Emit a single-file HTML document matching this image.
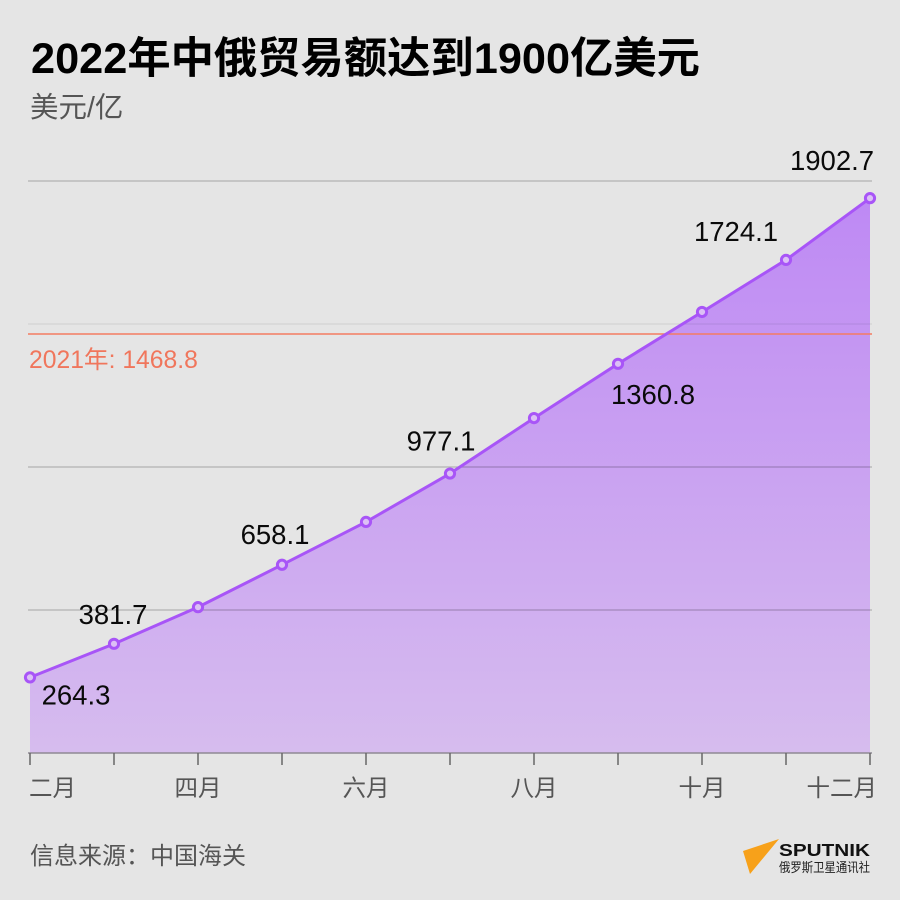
<!DOCTYPE html>
<html lang="zh">
<head>
<meta charset="utf-8">
<title>2022年中俄贸易额达到1900亿美元</title>
<style>
html,body{margin:0;padding:0;background:#e5e5e5;}
svg{display:block;}
text{font-family:"Liberation Sans","Noto Sans CJK SC",sans-serif;}
</style>
</head>
<body>
<svg id="chart" xmlns="http://www.w3.org/2000/svg" width="900" height="900" viewBox="0 0 900 900">
  <defs>
    <linearGradient id="areaFill" x1="0" y1="0" x2="0" y2="1">
      <stop offset="0" stop-color="#bb82f5"/>
      <stop offset="1" stop-color="#d5b9ef"/>
    </linearGradient>
  </defs>
  <rect width="900" height="900" fill="#e5e5e5"/>
  <text x="31" y="73" font-size="43" font-weight="700" fill="#000" textLength="669" lengthAdjust="spacingAndGlyphs">2022年中俄贸易额达到1900亿美元</text>
  <text x="30" y="117" font-size="28.5" fill="#555">美元/亿</text>
  <g id="plot"></g>
  <text x="30" y="864" font-size="24" fill="#555">信息来源：中国海关</text>
  <g>
    <polygon points="743,851 779,839 750,874" fill="#f7a11a"/>
    <text x="779" y="856" font-size="17.5" font-weight="700" fill="#111" textLength="91" lengthAdjust="spacingAndGlyphs">SPUTNIK</text>
    <text x="779" y="872" font-size="13" fill="#222" textLength="91" lengthAdjust="spacingAndGlyphs">俄罗斯卫星通讯社</text>
  </g>
</svg>
<script>
const categories = ['二月','三月','四月','五月','六月','七月','八月','九月','十月','十一月','十二月'];
const seriesValues = [264.3,381.7,510,658.1,808,977.1,1171,1360.8,1542,1724.1,1940];
const printedLabels = ['264.3','381.7','','658.1','','977.1','','1360.8','','1724.1','1902.7'];
const axisLabels = ['二月','','四月','','六月','','八月','','十月','','十二月'];
const gridTicks = [0,500,1000,1500,2000];
const referenceValue = 1465;
const referenceLabel = '2021年: 1468.8';

const SVG_NS = 'http://www.w3.org/2000/svg';
const plot = document.getElementById('plot');
const xLeft = 30, xStep = 84, yBase = 753, yPerUnit = 143 / 500;
const xScale = i => xLeft + i * xStep;
const yScale = v => yBase - v * yPerUnit;

function make(tag, attrs, parent) {
  const el = document.createElementNS(SVG_NS, tag);
  for (const k in attrs) el.setAttribute(k, attrs[k]);
  (parent || plot).appendChild(el);
  return el;
}

const pts = seriesValues.map((v, i) => xScale(i) + ',' + yScale(v));
const area = make('polygon', {points: xScale(0) + ',' + yBase + ' ' + pts.join(' ') + ' ' + xScale(seriesValues.length - 1) + ',' + yBase, fill: 'url(#areaFill)', 'fill-opacity': 0.93});



gridTicks.forEach(t => {
  if (t === 0) return;
  const g = make('line', {x1: 28, x2: 872, y1: yScale(t), y2: yScale(t), stroke: '#000', 'stroke-opacity': t === 1500 ? 0.09 : 0.22, 'stroke-width': t === 1500 ? 1 : 1.3});
  
  
});

const refLine = make('line', {x1: 28, x2: 872, y1: yScale(referenceValue), y2: yScale(referenceValue), stroke: '#f47c62', 'stroke-width': 1.5});



const refText = make('text', {x: 29, y: yScale(referenceValue) + 34, 'font-size': 24.7, fill: '#f0765c'});


refText.textContent = referenceLabel;

const axisLine = make('line', {x1: 28, x2: 872, y1: yBase, y2: yBase, stroke: '#8f8a93', 'stroke-width': 1.6});



categories.forEach((c, i) => {
  const tick = make('line', {x1: xScale(i), x2: xScale(i), y1: yBase, y2: yBase + 12, stroke: '#666', 'stroke-width': 1.5});
  
  
  if (!axisLabels[i]) return;
  const first = i === 0, last = i === categories.length - 1;
  const lab = make('text', {
    x: first ? 29 : last ? 877 : xScale(i),
    y: 796,
    'font-size': 23.5,
    fill: '#555',
    'text-anchor': first ? 'start' : last ? 'end' : 'middle'
  });
  
  
  lab.textContent = axisLabels[i];
});

const line = make('polyline', {points: pts.join(' '), fill: 'none', stroke: '#a855f7', 'stroke-width': 3, 'stroke-linejoin': 'round'});



const labelPlacement = {
  '二月': [46, 27], '三月': [-1, -20], '五月': [-7, -21], '七月': [-9, -23],
  '九月': [35, 40], '十一月': [-50, -19], '十二月': [-38, -28]
};

seriesValues.forEach((v, i) => {
  const p = make('circle', {cx: xScale(i), cy: yScale(v), r: 4.6, fill: '#dcc0f5', stroke: '#a855f7', 'stroke-width': 3});
  
  
  if (!printedLabels[i]) return;
  const off = labelPlacement[categories[i]];
  const t = make('text', {x: xScale(i) + off[0], y: yScale(v) + off[1], 'font-size': 27.5, fill: '#0a0a0a', 'text-anchor': 'middle'});
  
  
  t.textContent = printedLabels[i];
});
</script>
</body>
</html>
